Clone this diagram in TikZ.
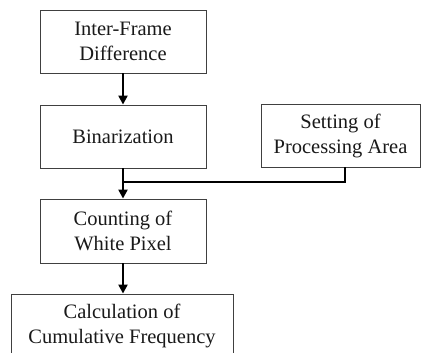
\documentclass[tikz,border=0pt]{standalone}
\usepackage{fontspec}
\setmainfont{Liberation Serif}
\usetikzlibrary{arrows.meta}
\begin{document}
\begin{tikzpicture}[x=1pt,y=1pt,
  box/.style={draw=black!75, line width=0.9pt, rectangle, inner sep=0pt, align=center,
    font=\fontsize{20.5}{25}\selectfont, text=black!90},
  conn/.style={line width=2.8pt, draw=black},
  arr/.style={conn, -{Triangle[length=9pt,width=9pt]}}]
\useasboundingbox (0,0) rectangle (421,-353);
\begin{scope}
\clip (0,0) rectangle (421,-353);
\node[box, minimum width=166pt, minimum height=63pt] (b1) at (123,-41.5) {Inter-Frame\\Difference};
\node[box, minimum width=166pt, minimum height=63pt] (b2) at (123,-136.5) {Binarization};
\node[box, minimum width=159pt, minimum height=63pt] (s) at (340.5,-135.5) {Setting of\\Processing Area};
\node[box, minimum width=166pt, minimum height=64pt] (b3) at (123,-231) {Counting of\\White Pixel};
\node[box, minimum width=222pt, minimum height=64pt] (b4) at (122,-326) {Calculation of\\Cumulative Frequency};
\end{scope}
\coordinate (j) at (123,-182);
\coordinate (sj) at (345,-182);
\draw[arr] (b1) -- (b2);
\draw[conn] (s.south -| sj) -- (sj) -- (j);
\draw[arr] (b2) -- (b3);
\draw[arr] (b3) -- (b3.south |- b4.north);
\end{tikzpicture}
\end{document}
